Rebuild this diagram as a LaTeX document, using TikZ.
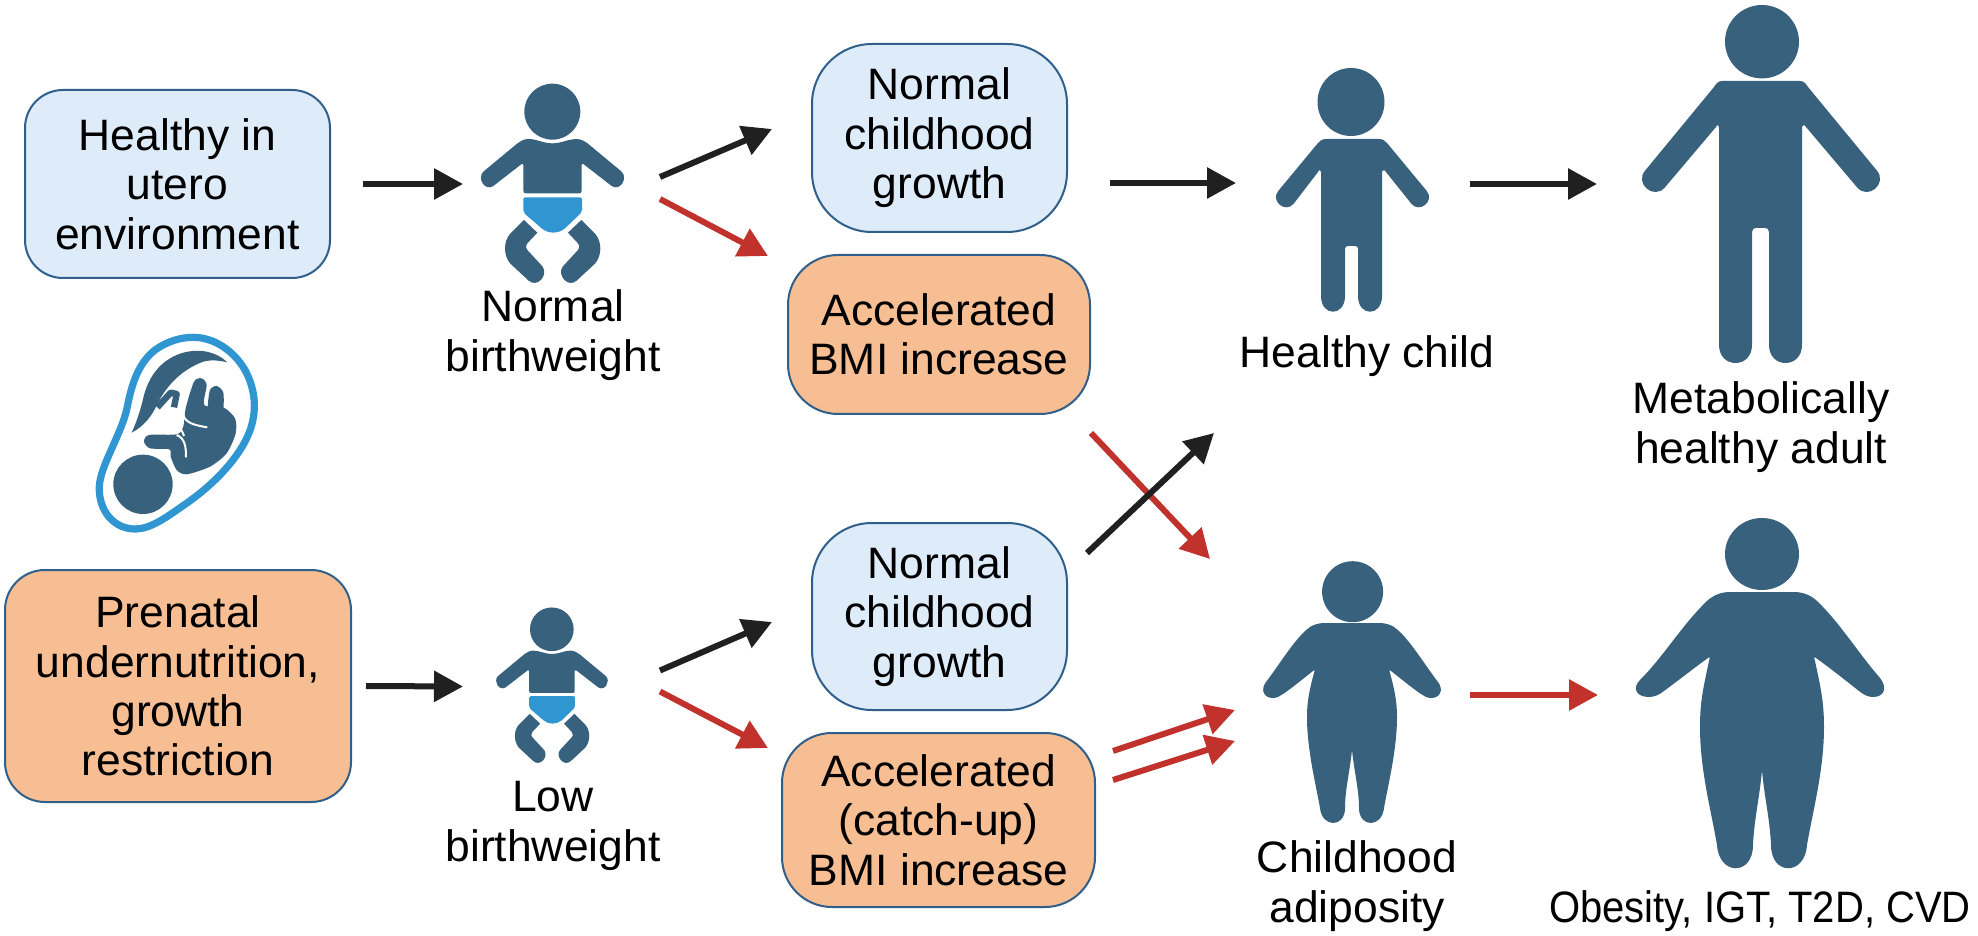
\documentclass[tikz,border=0pt]{standalone}
\usepackage{fontspec}
\setmainfont[FakeStretch=1.01]{Liberation Sans}
\usetikzlibrary{arrows.meta}
\definecolor{figblue}{HTML}{37617C}
\definecolor{diaper}{HTML}{3096D2}
\definecolor{boxblue}{HTML}{DEEBF9}
\definecolor{boxorange}{HTML}{F6BE92}
\definecolor{boxline}{HTML}{2F5F8A}
\definecolor{arrdark}{HTML}{202020}
\definecolor{arrred}{HTML}{C0322B}
\tikzset{
  boxbase/.style={draw=boxline,line width=1pt,align=center,inner sep=0pt,outer sep=0pt,
    font=\fontsize{22}{24.7}\selectfont},
  bluebox/.style={boxbase,fill=boxblue,rounded corners=30pt},
  orangebox/.style={boxbase,fill=boxorange,rounded corners=25pt},
  caption/.style={align=center,inner sep=0pt,font=\fontsize{22}{24.7}\selectfont},
  iconzone/.style={inner sep=0pt,outer sep=0pt},
  fig/.style={fill=figblue},
  arrbase/.style={line width=3pt,-{Triangle[length=14.5pt,width=15pt]}},
  blackarrow/.style={arrbase,draw=arrdark,arrows={-{Triangle[length=14.5pt,width=15pt,fill=arrdark]}}},
  redarrow/.style={arrbase,draw=arrred,arrows={-{Triangle[length=14.5pt,width=15pt,fill=arrred]}}},
}
\newcommand{\babyicon}[3]{%
\begin{scope}[shift={(#1,#2)},scale=#3]
  \fill[fig] (307,155) circle[radius=84];
  \fill[fig] (235,237) .. controls (260,237) and (280,250) .. (307,250)
    .. controls (335,250) and (355,237) .. (378,237)
    .. controls (395,237) and (405,245) .. (415,252) -- (515,335)
    .. controls (535,355) and (510,395) .. (485,378) -- (400,312)
    .. controls (397,310) and (395,311) .. (395,315) -- (395,392)
    .. controls (395,398) and (392,400) .. (388,400) -- (228,400)
    .. controls (224,400) and (220,398) .. (220,392) -- (220,315)
    .. controls (220,311) and (218,310) .. (215,312) -- (130,378)
    .. controls (105,395) and (80,355) .. (100,335) -- (200,252)
    .. controls (210,245) and (220,237) .. (235,237) -- cycle;
  \fill[diaper] (226,412) -- (390,412) .. controls (394,412) and (396,415) .. (396,420)
    -- (396,450) .. controls (396,456) and (394,458) .. (391,461) -- (345,505)
    .. controls (325,522) and (295,522) .. (275,505) -- (225,462)
    .. controls (221,458) and (220,456) .. (220,450) -- (220,418)
    .. controls (220,414) and (222,412) .. (226,412) -- cycle;
  \fill[fig] (222,480) -- (262,518) -- (232,550) .. controls (226,560) and (228,566) .. (232,570)
    -- (278,620) .. controls (296,645) and (262,685) .. (236,662) -- (180,610)
    .. controls (160,585) and (160,545) .. (180,522) -- cycle;
  \fill[fig] (394,480) -- (354,518) -- (384,550) .. controls (390,560) and (388,566) .. (384,570)
    -- (338,620) .. controls (320,645) and (354,685) .. (380,662) -- (436,610)
    .. controls (456,585) and (456,545) .. (436,522) -- cycle;
\end{scope}}
\begin{document}
\begin{tikzpicture}[x=0.5pt,y=-0.5pt]
\path[use as bounding box,fill=white] (0,0) rectangle (1978,936);
% fetus icon
\begin{scope}[shift={(70,320)},scale=0.33333]
  \draw[diaper,line width=3.6pt] (370,52) .. controls (430,52) and (490,90) .. (525,150)
    .. controls (560,215) and (565,290) .. (525,365)
    .. controls (485,440) and (410,510) .. (335,560)
    .. controls (285,595) and (240,627) .. (195,627)
    .. controls (130,627) and (85,570) .. (88,500)
    .. controls (90,440) and (150,350) .. (170,270)
    .. controls (185,190) and (205,130) .. (255,90)
    .. controls (290,65) and (330,52) .. (370,52) -- cycle;
  \fill[fig] (219,493) circle[radius=89];
  \fill[fig] (472,127) .. controls (440,95) and (390,85) .. (340,98)
    .. controls (280,115) and (240,160) .. (222,225)
    .. controls (212,270) and (200,305) .. (185,338)
    .. controls (220,320) and (245,290) .. (262,252)
    .. controls (285,205) and (330,150) .. (400,125)
    .. controls (425,118) and (450,122) .. (472,127) -- cycle;
  \draw[draw=figblue,line width=3.2pt,line join=round] (262,262) -- (302,218) -- (320,222) -- (312,262);
  \fill[fig] plot[smooth cycle,tension=0.45] coordinates
    {(347,265) (372,185) (395,175) (410,195) (403,255) (460,262) (495,295) (497,340)
     (470,400) (420,440) (350,463) (320,450) (302,410) (298,388) (240,385) (222,365)
     (237,345) (320,343) (340,320)};
  \fill[fig] plot[smooth cycle,tension=0.45] coordinates
    {(414,262) (420,210) (440,198) (460,218) (458,275) (430,280)};
  \draw[white,line width=1pt] (340,262) .. controls (335,295) and (345,312) .. (412,322);
  \draw[white,line width=1pt] (320,345) .. controls (345,355) and (348,380) .. (348,412);
  \draw[white,line width=1pt] (306,275) .. controls (315,305) and (335,325) .. (342,348);
\end{scope}
% babies
\babyicon{450}{60}{0.33333}
\babyicon{472}{589}{0.26}
% healthy child
\fill[fig] (1351,102) ellipse[x radius=33.5,y radius=34];
\fill[fig] (1326,139) -- (1379,139) .. controls (1383,139) and (1385,141) .. (1387,143)
  -- (1426.7,190.9) .. controls (1435,200.9) and (1419.6,213.7) .. (1411.3,203.7)
  -- (1386,172) .. controls (1384,169) and (1382,170) .. (1382,173)
  -- (1382,296) .. controls (1382,317) and (1358,317) .. (1358,296)
  -- (1358,249) .. controls (1358,247) and (1357,246) .. (1355,246)
  -- (1348,246) .. controls (1346,246) and (1345,247) .. (1345,249)
  -- (1345,296) .. controls (1345,317) and (1321,317) .. (1321,296)
  -- (1321,173) .. controls (1321,170) and (1319,169) .. (1318,172)
  -- (1293.7,203.7) .. controls (1285.4,213.7) and (1270,200.9) .. (1278.3,190.9)
  -- (1318,143) .. controls (1320,141) and (1322,139) .. (1326,139) -- cycle;
% healthy adult
\fill[fig] (1762,41.7) ellipse[x radius=37,y radius=36.7];
\fill[fig] (1722,81) -- (1800,81) .. controls (1804,81) and (1806,84) .. (1808,87)
  -- (1876.8,170.5) .. controls (1887.9,183.3) and (1868.3,200.3) .. (1857.2,187.5)
  -- (1806,127) .. controls (1804,124) and (1802,125) .. (1802,128)
  -- (1802,345) .. controls (1802,369) and (1769,369) .. (1769,345)
  -- (1769,232) .. controls (1769,229) and (1767,228) .. (1765,228)
  -- (1756,228) .. controls (1754,228) and (1752,229) .. (1752,232)
  -- (1752,345) .. controls (1752,369) and (1719,369) .. (1719,345)
  -- (1719,128) .. controls (1719,125) and (1717,124) .. (1716,127)
  -- (1664.8,187.5) .. controls (1653.7,200.3) and (1634.1,183.3) .. (1645.2,170.5)
  -- (1714,87) .. controls (1716,84) and (1718,81) .. (1722,81) -- cycle;
% obese child
\fill[fig] (1352.6,591.7) circle[radius=30.5];
\fill[fig] (1325,623) -- (1381,623) .. controls (1392,624) and (1396,628) .. (1402,634)
  .. controls (1415,648) and (1425,665) .. (1438,682) .. controls (1444,690) and (1440,698) .. (1431,698)
  .. controls (1427,698) and (1424,696) .. (1421,694) .. controls (1412,688) and (1400,678) .. (1391,671)
  .. controls (1389,669) and (1389,671) .. (1390,673) .. controls (1394,688) and (1397,700) .. (1397,717)
  .. controls (1397,750) and (1388,785) .. (1384,808) .. controls (1382,828) and (1359,828) .. (1359,808)
  .. controls (1359,790) and (1354,770) .. (1352,750) .. controls (1350,770) and (1345,790) .. (1345,808)
  .. controls (1345,828) and (1322,828) .. (1320,808) .. controls (1316,785) and (1307,750) .. (1307,717)
  .. controls (1307,700) and (1310,688) .. (1314,673) .. controls (1315,671) and (1315,669) .. (1313,671)
  .. controls (1304,678) and (1292,688) .. (1283,694) .. controls (1280,696) and (1277,698) .. (1273,698)
  .. controls (1264,698) and (1260,690) .. (1266,682) .. controls (1279,665) and (1289,648) .. (1302,634)
  .. controls (1308,628) and (1312,624) .. (1323,623) -- cycle;
% obese adult
\fill[fig] (1762,554) ellipse[x radius=37,y radius=36];
\fill[fig] (1728,592) -- (1796,592) .. controls (1808,593) and (1815,598) .. (1823,607)
  .. controls (1843,628) and (1860,655) .. (1880,678) .. controls (1888,688) and (1884,697) .. (1873,697)
  .. controls (1868,697) and (1864,695) .. (1859,691) .. controls (1845,680) and (1830,668) .. (1816,658)
  .. controls (1814,656) and (1814,658) .. (1815,661) .. controls (1820,685) and (1824,700) .. (1824,727)
  .. controls (1824,770) and (1813,810) .. (1807,845) .. controls (1805,876) and (1771,876) .. (1771,845)
  .. controls (1770,820) and (1764,795) .. (1762,770) .. controls (1760,795) and (1754,820) .. (1753,845)
  .. controls (1753,876) and (1719,876) .. (1717,845) .. controls (1711,810) and (1700,770) .. (1700,727)
  .. controls (1700,700) and (1704,685) .. (1709,661) .. controls (1710,658) and (1710,656) .. (1708,658)
  .. controls (1694,668) and (1679,680) .. (1664,691) .. controls (1659,695) and (1654,697) .. (1649,697)
  .. controls (1636,697) and (1632,688) .. (1640,680) .. controls (1662,658) and (1679,630) .. (1701,607)
  .. controls (1709,598) and (1716,593) .. (1728,592) -- cycle;
% icon zones (for connectors)
\node[iconzone,minimum width=72.5pt,minimum height=100pt] (babyA) at (552.5,184) {};
\node[iconzone,minimum width=56.5pt,minimum height=78.5pt] (babyB) at (552.5,686.5) {};
\node[iconzone,minimum width=76.5pt,minimum height=126pt] (childA) at (1353.5,186) {};
\node[iconzone,minimum width=118.5pt,minimum height=179pt] (adultA) at (1761.5,184) {};
\node[iconzone,minimum width=88.5pt,minimum height=131pt] (childB) at (1352.5,692) {};
\node[iconzone,minimum width=130pt,minimum height=175pt] (adultB) at (1762,693) {};
% boxes
\node[bluebox,rounded corners=19pt,minimum width=152.5pt,minimum height=94pt] (env) at (177.5,184) {Healthy in\\utero\\environment};
\node[bluebox,minimum width=127.5pt,minimum height=94pt] (grow1) at (939.5,138) {Normal\\childhood\\growth};
\node[orangebox,minimum width=151pt,minimum height=79.5pt] (bmi1) at (939,334.5) {Accelerated\\BMI increase};
\node[orangebox,rounded corners=20pt,minimum width=173pt,minimum height=116pt] (prenatal) at (178,686) {Prenatal\\undernutrition,\\growth\\restriction};
\node[bluebox,minimum width=127.5pt,minimum height=93.5pt] (grow2) at (939.5,616.5) {Normal\\childhood\\growth};
\node[orangebox,minimum width=156.5pt,minimum height=87pt] (bmi2) at (938.5,820) {Accelerated\\(catch-up)\\BMI increase};
% captions
\node[caption] (capA) at (553,335) {Normal\\birthweight};
\node[caption] (capB) at (553,826) {Low\\birthweight};
\node[caption] (capC) at (1367,356) {Healthy child};
\node[caption] (capD) at (1761,427) {Metabolically\\healthy adult};
\node[caption] (capE) at (1357,886) {Childhood\\adiposity};
\node[caption,transform shape,xscale=0.9] (capF) at (1760,911) {Obesity, IGT, T2D, CVD};
% connectors
\draw[blackarrow] ([shift={(33,0)}]env.east) -- ([shift={(-17,0)}]babyA.west);
\draw[blackarrow] ([shift={(35,-7)}]babyA.east) -- ([shift={(-40,-9)}]grow1.west);
\draw[redarrow] ([shift={(35,15)}]babyA.east) -- ([shift={(-20,1)}]bmi1.north west);
\draw[blackarrow] ([shift={(43,45)}]grow1.east) -- ([shift={(-41,-3)}]childA.west);
\draw[blackarrow] ([shift={(40,-2)}]childA.east) -- ([shift={(-46,0)}]adultA.west);
\draw[redarrow] ([shift={(1,19)}]bmi1.south east) -- ([shift={(-54,-2)}]childB.north west);
\draw[blackarrow] ([shift={(20,30)}]grow2.north east) -- ([shift={(-63,121)}]childA.south west);
\draw[blackarrow] ([shift={(15,0)}]prenatal.east) -- ([shift={(-33,0)}]babyB.west);
\draw[blackarrow] ([shift={(51,-16)}]babyB.east) -- ([shift={(-40,5.5)}]grow2.west);
\draw[redarrow] ([shift={(51,5)}]babyB.east) -- ([shift={(-14,15)}]bmi2.north west);
\draw[redarrow] ([shift={(18,-69)}]bmi2.east) -- ([shift={(-29,18)}]childB.west);
\draw[redarrow] ([shift={(18,-40)}]bmi2.east) -- ([shift={(-29,49)}]childB.west);
\draw[redarrow] ([shift={(29,3)}]childB.east) -- ([shift={(-34,2)}]adultB.west);
\end{tikzpicture}
\end{document}
